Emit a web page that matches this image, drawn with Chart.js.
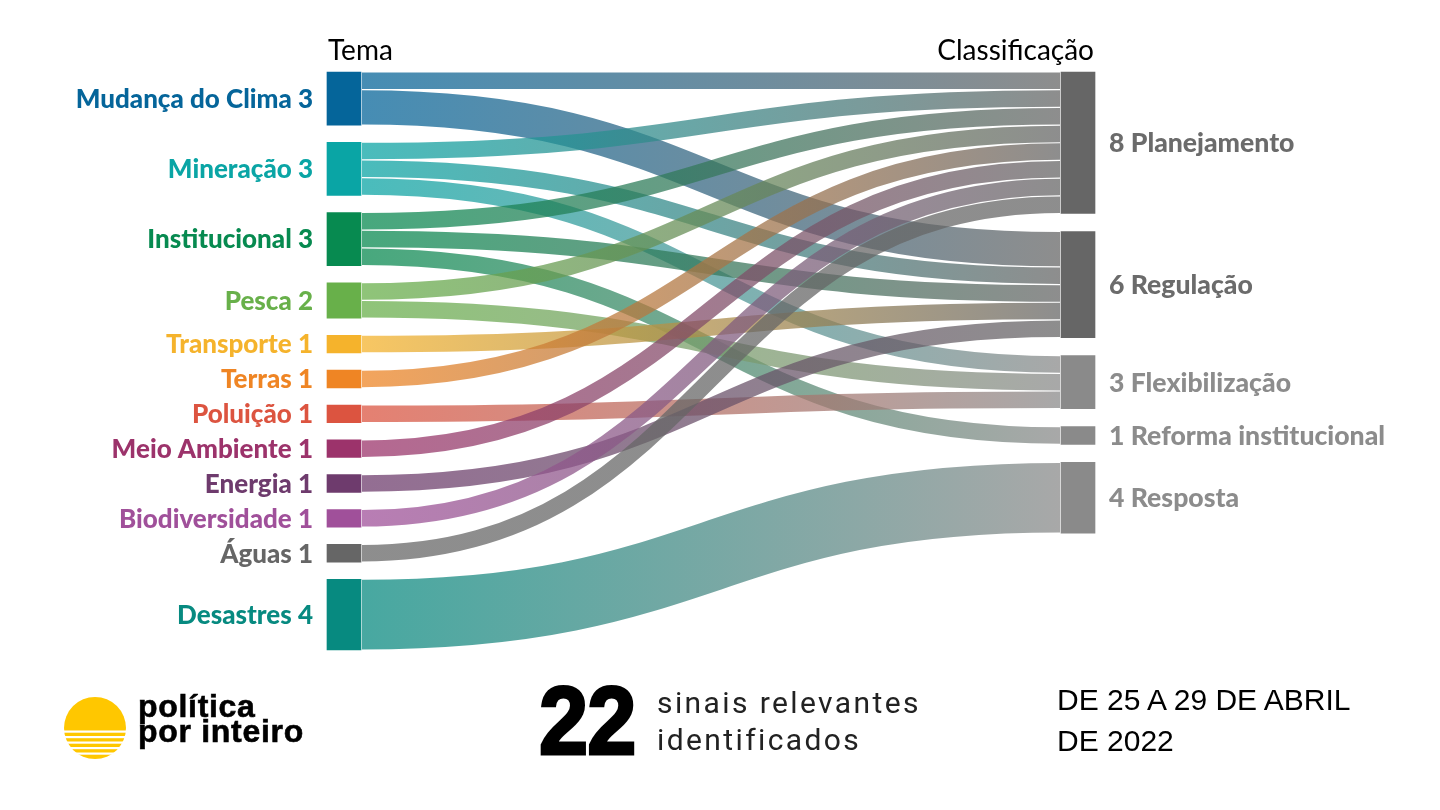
<!DOCTYPE html>
<html>
<head>
<meta charset="utf-8">
<script src="https://cdn.jsdelivr.net/npm/chart.js@4.4.0/dist/chart.umd.min.js"></script>
<style>
    html, body { margin: 0; padding: 0; background: #fff; }
    #wrap { position: relative; width: 1440px; height: 810px; overflow: hidden; }
    #chart { position: absolute; left: 0; top: 0; }
    .logo-text { position: absolute; left: 138px; top: 694px; font-family: 'Liberation Sans', Arial, sans-serif;
        font-weight: 700; font-size: 32px; line-height: 25px; letter-spacing: 0.7px; color: #000;
        -webkit-text-stroke: 0.6px #000; }
    .big { position: absolute; left: 539px; top: 668px; font-family: 'Liberation Sans Narrow', 'Liberation Sans', sans-serif;
        font-weight: 700; font-size: 96px; line-height: 106px; color: #000; -webkit-text-stroke: 3px #000;
        transform: scaleX(0.92); transform-origin: left top; letter-spacing: -1px; }
    .sinais { position: absolute; left: 657px; top: 684px; font-family: Roboto, sans-serif; font-size: 30px;
        line-height: 37px; letter-spacing: 2.4px; color: #222; }
    .periodo { position: absolute; left: 1057px; top: 679px; font-family: 'Liberation Sans', Arial, sans-serif;
        font-size: 30px; line-height: 41px; color: #000; }
</style>
</head>
<body>
<div id="wrap">
    <canvas id="chart" width="1440" height="810"></canvas>
    <svg style="position:absolute;left:64px;top:697px" width="62" height="62" viewBox="0 0 62 62">
        <circle cx="31" cy="31" r="31" fill="#ffc700"/>
        <g fill="#fff">
            <rect x="0" y="33.5" width="62" height="2.2"/>
            <rect x="0" y="39" width="62" height="2.2"/>
            <rect x="0" y="44.5" width="62" height="2.2"/>
            <rect x="0" y="50" width="62" height="2.2"/>
            <rect x="0" y="55.5" width="62" height="2.2"/>
        </g>
    </svg>
    <div class="logo-text">política<br>por inteiro</div>
    <div class="big">22</div>
    <div class="sinais">sinais relevantes<br>identificados</div>
    <div class="periodo">DE 25 A 29 DE ABRIL<br>DE 2022</div>
</div>
<script>
// Left column (Tema) and right column (Classificação)
const temas = ['Mudança do Clima', 'Mineração', 'Institucional', 'Pesca', 'Transporte', 'Terras',
    'Poluição', 'Meio Ambiente', 'Energia', 'Biodiversidade', 'Águas', 'Desastres'];
const temaColors = ['#05659a', '#0aa5a5', '#078a50', '#68b04a', '#f5b32c', '#ef8524',
    '#dc5440', '#9c336b', '#6e3b6d', '#a0509a', '#666666', '#078a80'];
const classes = ['Planejamento', 'Regulação', 'Flexibilização', 'Reforma institucional', 'Resposta'];
const classColors = ['#666666', '#666666', '#8a8a8a', '#8a8a8a', '#8a8a8a'];

// Links: source tema index -> target class index, value
const linkSource = [0, 0, 1, 1, 1, 2, 2, 2, 3, 3, 4, 5, 6, 7, 8, 9, 10, 11];
const linkTarget = [0, 1, 0, 1, 2, 0, 1, 3, 0, 2, 1, 0, 2, 0, 1, 0, 0, 4];
const linkValue  = [1, 2, 1, 1, 1, 1, 1, 1, 1, 1, 1, 1, 1, 1, 1, 1, 1, 4];

const GAP_LEFT = 0.97;    // space between nodes, in value units
const GAP_RIGHT = 1.015;
const NODE_W = 34;        // node width in px
const LINK_ALPHA = 0.74;

// Node totals
const temaValue = temas.map((_, i) => linkValue.reduce((s, v, k) => s + (linkSource[k] === i ? v : 0), 0));
const classValue = classes.map((_, i) => linkValue.reduce((s, v, k) => s + (linkTarget[k] === i ? v : 0), 0));

// Stack nodes from the top
function stackStarts(values, gap) {
    const starts = [];
    let acc = 0;
    values.forEach(v => { starts.push(acc); acc += v + gap; });
    return starts;
}
const temaStart = stackStarts(temaValue, GAP_LEFT);
const classStart = stackStarts(classValue, GAP_RIGHT);
const leftTotal = temaStart[temaStart.length - 1] + temaValue[temaValue.length - 1];

const nodeData = [
    ...temas.map((_, i) => ({ x: 0, y: [temaStart[i], temaStart[i] + temaValue[i]] })),
    ...classes.map((_, i) => ({ x: 1, y: [classStart[i], classStart[i] + classValue[i]] }))
];

// Draw the flows between the two columns
const linksPlugin = {
    id: 'links',
    beforeDatasetsDraw(chart) {
        const { ctx } = chart;
        const xs = chart.scales.x, ys = chart.scales.y;
        const x0 = xs.getPixelForValue(0) + NODE_W / 2 + 1;
        const x1 = xs.getPixelForValue(1) - NODE_W / 2 - 1;
        const xm = (x0 + x1) / 2;
        const unit = Math.abs(ys.getPixelForValue(1) - ys.getPixelForValue(0));
        const srcOff = temas.map(() => 0);
        const tgtOff = classes.map(() => 0);

        ctx.save();
        ctx.globalAlpha = LINK_ALPHA;
        linkValue.forEach((v, k) => {
            const s = linkSource[k], t = linkTarget[k];
            const y0 = ys.getPixelForValue(temaStart[s] + srcOff[s] + v / 2);
            const y1 = ys.getPixelForValue(classStart[t] + tgtOff[t] + v / 2);
            srcOff[s] += v;
            tgtOff[t] += v;

            const grad = ctx.createLinearGradient(x0, 0, x1, 0);
            grad.addColorStop(0, temaColors[s]);
            grad.addColorStop(1, classColors[t]);
            ctx.strokeStyle = grad;
            ctx.lineWidth = v * unit - 1.2;
            ctx.lineCap = 'butt';
            ctx.beginPath();
            ctx.moveTo(x0, y0);
            ctx.bezierCurveTo(xm, y0, xm, y1, x1, y1);
            ctx.stroke();
        });
        ctx.restore();
    }
};

// Node labels and column titles
const labelsPlugin = {
    id: 'labels',
    afterDatasetsDraw(chart) {
        const { ctx } = chart;
        const xs = chart.scales.x, ys = chart.scales.y;
        const leftX = xs.getPixelForValue(0) - NODE_W / 2;
        const rightX = xs.getPixelForValue(1) + NODE_W / 2;
        ctx.save();
        ctx.textBaseline = 'middle';
        ctx.font = '900 26px Lato, "Open Sans", sans-serif';
        ctx.textAlign = 'right';
        temas.forEach((t, i) => {
            ctx.fillStyle = temaColors[i];
            ctx.fillText(t + ' ' + temaValue[i], leftX - 14, ys.getPixelForValue(temaStart[i] + temaValue[i] / 2) + 1);
        });
        ctx.textAlign = 'left';
        ctx.font = '900 26.6px Lato, "Open Sans", sans-serif';
        const classText = ['#6b6b6b', '#6b6b6b', '#8c8c8c', '#8c8c8c', '#8c8c8c'];
        classes.forEach((c, i) => {
            ctx.fillStyle = classText[i];
            ctx.fillText(classValue[i] + ' ' + c, rightX + 14, ys.getPixelForValue(classStart[i] + classValue[i] / 2) + 1);
        });

        ctx.textBaseline = 'alphabetic';
        ctx.fillStyle = '#000';
        ctx.font = '400 28px Lato, "Open Sans", sans-serif';
        ctx.textAlign = 'left';
        ctx.fillText('Tema', leftX + 1, chart.chartArea.top - 12);
        ctx.textAlign = 'right';
        ctx.fillText('Classificação', rightX - 1, chart.chartArea.top - 12);
        ctx.restore();
    }
};

new Chart(document.getElementById('chart'), {
    type: 'bar',
    data: {
        datasets: [{
            data: nodeData,
            backgroundColor: [...temaColors, ...classColors],
            barThickness: NODE_W,
            borderWidth: 0,
            borderSkipped: false,
            clip: false
        }]
    },
    options: {
        responsive: false,
        animation: false,
        events: [],
        layout: { padding: { left: 344, right: 362, top: 72, bottom: 160 } },
        plugins: { legend: { display: false }, tooltip: { enabled: false } },
        scales: {
            x: { type: 'linear', min: 0, max: 1, offset: false, display: false },
            y: { min: 0, max: leftTotal, reverse: true, display: false }
        }
    },
    plugins: [linksPlugin, labelsPlugin]
});
</script>
</body>
</html>
